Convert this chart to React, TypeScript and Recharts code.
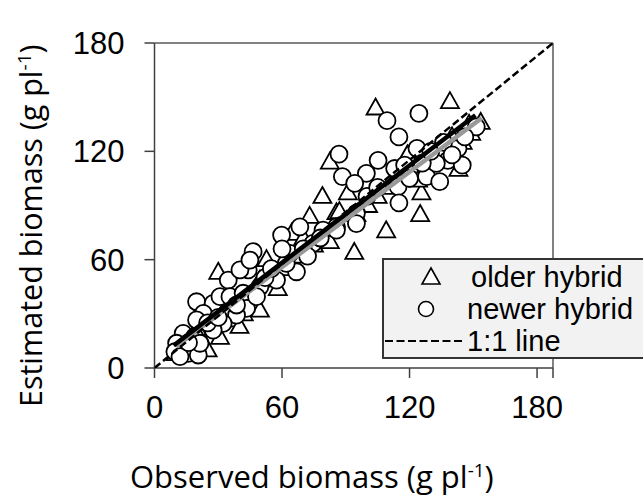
import React from 'react';
import { ScatterChart, Scatter, XAxis, YAxis, ReferenceLine, Legend } from 'recharts';

// older hybrid: [observed, estimated]
const olderHybrid: [number, number][] = [
  [104, 144], [139, 147.5], [153.5, 136], [149, 130], [125, 85], [109, 76], [94, 64],
  [125.6, 97], [143, 110], [91, 97], [100.5, 90], [124, 104], [85.6, 86], [119, 118],
  [79, 95], [82.5, 114], [73, 84], [87, 86.6], [52.7, 60], [82.5, 70], [64.5, 74.6],
  [30, 53], [58, 44], [25, 10], [35.5, 26.6], [40, 23], [49.6, 32], [30.8, 17],
  [24.5, 21], [54, 54], [49.6, 48.7], [15, 14], [20, 22], [45, 40], [60, 55], [68, 62],
  [75, 68], [95, 85], [105, 95], [112, 100], [130, 115], [135, 120], [145, 125],
  [148, 135], [18, 12], [38, 35], [42, 30], [62, 60], [70, 72], [115, 108], [140, 128],
  [10, 8], [28, 25], [33, 31],
];

// newer hybrid: [observed, estimated]
const newerHybrid: [number, number][] = [
  [124.4, 141], [109.4, 137], [115, 128], [123.5, 121.6], [142.8, 121.6], [151.4, 133.6],
  [86.8, 118.5], [105.2, 115], [138, 115], [144.8, 112.4], [99.7, 107.8], [88.4, 106],
  [113, 110.5], [117.7, 112.4], [128, 106], [134.2, 103.2], [132.6, 113.3], [94.2, 102.3],
  [114.6, 100.4], [115, 91.5], [95, 85.7], [95, 80], [85.6, 78.2], [126, 113.5],
  [59.8, 73.6], [68.4, 78.2], [46.4, 64.4], [44.1, 54.3], [34.7, 48.7], [40.2, 54.3],
  [57.4, 48.7], [66.8, 53.3], [63.7, 63.5], [74.6, 69], [79.3, 76.4], [85.6, 76.4],
  [19.8, 36.7], [27.6, 35.8], [30.8, 39.5], [35.5, 39.5], [41.7, 41.4], [43.3, 33],
  [49.6, 45], [23, 30.3], [34, 30.3], [38.6, 29.3], [19.8, 26.6], [32.3, 24.7],
  [13.5, 19.2], [18.9, 17.3], [10.4, 13.7], [9.6, 9], [15.9, 8.1], [12, 6.3], [20.6, 7.2],
  [21.4, 13.7], [27.6, 21], [38.6, 34.9], [48, 39.5], [44.9, 59.8], [52, 50], [55, 55],
  [62, 58], [70, 66], [72, 62], [78, 72], [100, 95], [105, 100], [120, 105], [130, 120],
  [136, 125], [140, 118], [146, 128], [25, 25], [30, 28], [16, 14], [60, 66],
];

const fitGray: [number, number][] = [[10, 12], [154, 138.5]];
const fitBlack: [number, number][] = [[9, 12.5], [151, 140]];
const oneToOne: [number, number][] = [[0, 0], [187.5, 180]];

const xTicks = [0, 60, 120, 180, 187.5];
const yTicks = [0, 60, 120, 180];
const legendLabels = ['older hybrid', 'newer hybrid', '1:1 line'];

const toPts = (a: [number, number][]) => a.map(([x, y]) => ({ x, y }));

const Tri = (props: any) => {
  const { cx, cy } = props;
  if (cx == null || cy == null) return <g />;
  const d = `M${cx},${cy - 9.5} L${cx + 9},${cy + 6.5} L${cx - 9},${cy + 6.5} Z`;
  return <path d={d} fill="#fff" stroke="#000" strokeWidth={1.8} strokeLinejoin="miter" />;
};

const Circ = (props: any) => {
  const { cx, cy } = props;
  if (cx == null || cy == null) return <g />;
  return <circle cx={cx} cy={cy} r={8.5} fill="#fff" stroke="#000" strokeWidth={1.8} />;
};

const Empty = () => <g />;

const tickFont = {
  fontFamily: 'Liberation Sans, Arial, sans-serif',
  fontSize: 31,
  fill: '#000',
  stroke: 'none',
};
const titleFont = '"Open Sans", Lato, sans-serif';

const XTitle = () => (
  <text x={130} y={488} fontFamily={titleFont} fontSize={31} fill="#000">
    Observed biomass (g pl<tspan dy={-11} fontSize={19}>-1</tspan>
    <tspan dy={11}>)</tspan>
  </text>
);

const YTitle = () => (
  <text
    x={0}
    y={0}
    transform="translate(42, 407) rotate(-90)"
    fontFamily={titleFont}
    fontSize={30.5}
    fill="#000"
  >
    Estimated biomass (g pl<tspan dy={-11} fontSize={19}>-1</tspan>
    <tspan dy={11}>)</tspan>
  </text>
);

const LegendBox = () => (
  <svg width={262} height={101} style={{ display: 'block' }}>
    <rect x={1} y={1} width={262} height={99} fill="#f2f2f2" stroke="#333" strokeWidth={2} />
    <path d="M49,10 L58,26 L40,26 Z" fill="#fff" stroke="#000" strokeWidth={1.6} />
    <text x={89} y={29} fontFamily="Liberation Sans, Arial, sans-serif" fontSize={29} fill="#000">
      {legendLabels[0]}
    </text>
    <circle cx={44} cy={51} r={7.5} fill="#fff" stroke="#000" strokeWidth={1.6} />
    <text x={85} y={61} fontFamily="Liberation Sans, Arial, sans-serif" fontSize={29} fill="#000">
      {legendLabels[1]}
    </text>
    <line x1={3} y1={83} x2={82} y2={83} stroke="#000" strokeWidth={2} strokeDasharray="8 3.5" />
    <text x={85} y={93} fontFamily="Liberation Sans, Arial, sans-serif" fontSize={29} fill="#000">
      {legendLabels[2]}
    </text>
  </svg>
);

export default function App() {
  return (
    <div style={{ position: 'absolute', left: 0, top: 0, width: 643, height: 496, background: '#fff' }}>
      <ScatterChart
        width={643}
        height={496}
        margin={{ top: 43, right: 90, bottom: 68, left: 94.5 }}
      >
        <XAxis
          type="number"
          dataKey="x"
          domain={[0, 187.5]}
          ticks={xTicks}
          interval={0}
          allowDataOverflow
          tickSize={10}
          tickMargin={18}
          height={60}
          stroke="#404040"
          strokeWidth={1.5}
          tick={tickFont}
          tickFormatter={(v: number) => (v === 187.5 ? '' : String(v))}
          label={{ content: XTitle }}
        />
        <YAxis
          type="number"
          dataKey="y"
          domain={[0, 180]}
          ticks={yTicks}
          interval={0}
          allowDataOverflow
          tickSize={10}
          tickMargin={20}
          width={60}
          stroke="#404040"
          strokeWidth={1.5}
          tick={tickFont}
          label={{ content: YTitle }}
        />
        <ReferenceLine y={180} stroke="#595959" strokeWidth={1.5} />
        <ReferenceLine x={187.5} stroke="#595959" strokeWidth={1.5} />
        <Scatter name="older hybrid" data={toPts(olderHybrid)} shape={Tri} isAnimationActive={false} />
        <Scatter name="newer hybrid" data={toPts(newerHybrid)} shape={Circ} isAnimationActive={false} />
        <Scatter
          data={toPts(fitGray)}
          line={{ stroke: '#999999', strokeWidth: 4.5 }}
          shape={Empty}
          isAnimationActive={false}
        />
        <Scatter
          data={toPts(fitBlack)}
          line={{ stroke: '#000000', strokeWidth: 4.5 }}
          shape={Empty}
          isAnimationActive={false}
        />
        <Scatter
          data={toPts(oneToOne)}
          line={{ stroke: '#000', strokeWidth: 2.5, strokeDasharray: '7.5 3.5' }}
          shape={Empty}
          isAnimationActive={false}
        />
        <Legend
          layout="vertical"
          align="center"
          verticalAlign="middle"
          content={LegendBox}
          wrapperStyle={{ position: 'absolute', left: 382, top: 258, width: 262, height: 101 }}
        />
      </ScatterChart>
    </div>
  );
}
